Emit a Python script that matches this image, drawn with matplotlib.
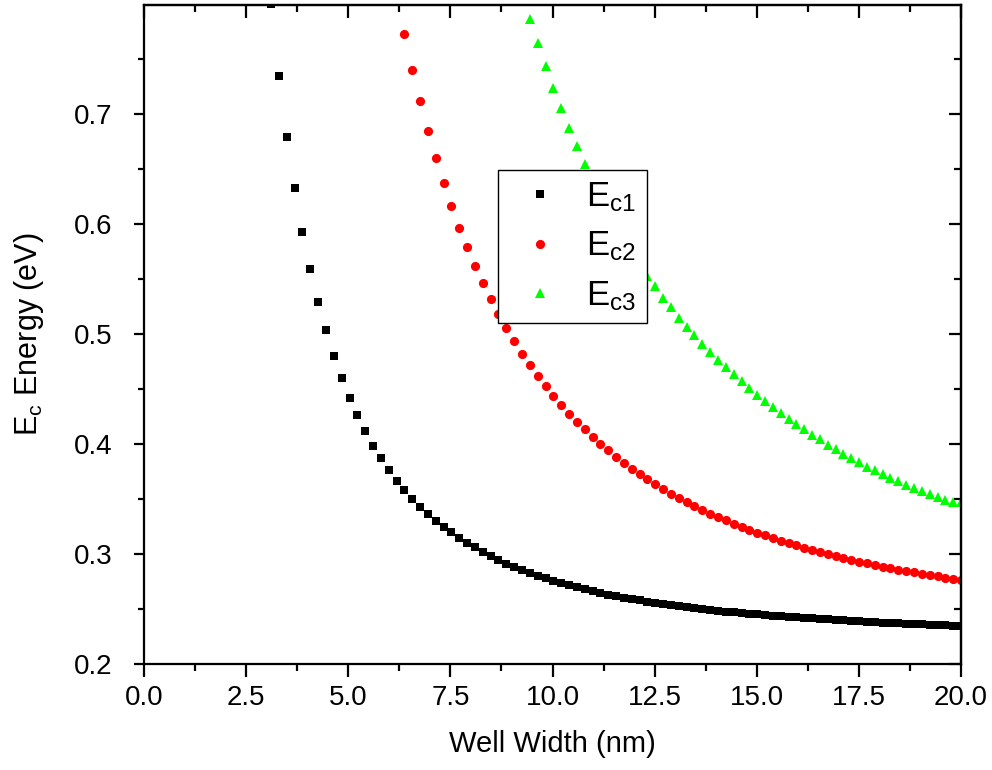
import numpy as np
import matplotlib
matplotlib.use("Agg")
import matplotlib.pyplot as plt
from matplotlib.ticker import MultipleLocator, FormatStrFormatter, FixedLocator

plt.rcParams['font.family'] = ['Liberation Sans', 'DejaVu Sans']
plt.rcParams['mathtext.fontset'] = 'custom'
plt.rcParams['mathtext.rm'] = 'Liberation Sans'
plt.rcParams['mathtext.it'] = 'Liberation Sans:italic'

# Well width grid (nm), sampled uniformly between 1 and 20 nm
width = np.linspace(1, 20, 100)

ec1 = [0.8000, 0.7347, 0.6797, 0.6331, 0.5930, 0.5589, 0.5290, 0.5040, 0.4798, 0.4598,
       0.4418, 0.4260, 0.4114, 0.3986, 0.3868, 0.3765, 0.3667, 0.3582, 0.3503, 0.3430,
       0.3360, 0.3299, 0.3243, 0.3195, 0.3144, 0.3098, 0.3058, 0.3016, 0.2980, 0.2943,
       0.2910, 0.2880, 0.2852, 0.2826, 0.2801, 0.2778, 0.2755, 0.2734, 0.2714, 0.2696,
       0.2678, 0.2661, 0.2645, 0.2630, 0.2615, 0.2602, 0.2590, 0.2578, 0.2566, 0.2555,
       0.2544, 0.2534, 0.2524, 0.2515, 0.2505, 0.2496, 0.2488, 0.2481, 0.2474, 0.2467,
       0.2461, 0.2455, 0.2449, 0.2443, 0.2437, 0.2432, 0.2427, 0.2422, 0.2417, 0.2412,
       0.2407, 0.2403, 0.2398, 0.2394, 0.2390, 0.2386, 0.2382, 0.2378, 0.2374, 0.2371,
       0.2367, 0.2364, 0.2361, 0.2358, 0.2355, 0.2352, 0.2349, 0.2346, 0.2343]

ec2 = [0.7727, 0.7408, 0.7119, 0.6851, 0.6605, 0.6377, 0.6167, 0.5969, 0.5790, 0.5622,
       0.5462, 0.5318, 0.5182, 0.5054, 0.4935, 0.4823, 0.4716, 0.4619, 0.4525, 0.4436,
       0.4354, 0.4276, 0.4203, 0.4132, 0.4065, 0.4002, 0.3941, 0.3883, 0.3828, 0.3773,
       0.3725, 0.3679, 0.3633, 0.3591, 0.3548, 0.3509, 0.3469, 0.3433, 0.3399, 0.3366,
       0.3335, 0.3305, 0.3275, 0.3247, 0.3220, 0.3193, 0.3168, 0.3144, 0.3120, 0.3098,
       0.3077, 0.3056, 0.3034, 0.3016, 0.2998, 0.2980, 0.2961, 0.2943, 0.2928, 0.2913,
       0.2898, 0.2882, 0.2867, 0.2855, 0.2843, 0.2831, 0.2818, 0.2806, 0.2794, 0.2782,
       0.2773, 0.2764]

ec3 = [0.7867, 0.7653, 0.7438, 0.7243, 0.7058, 0.6879, 0.6712, 0.6552, 0.6400, 0.6255,
       0.6118, 0.5988, 0.5866, 0.5750, 0.5638, 0.5531, 0.5434, 0.5330, 0.5243, 0.5151,
       0.5066, 0.4990, 0.4914, 0.4838, 0.4765, 0.4701, 0.4634, 0.4570, 0.4509, 0.4449,
       0.4391, 0.4336, 0.4281, 0.4230, 0.4181, 0.4132, 0.4084, 0.4041, 0.3995, 0.3953,
       0.3913, 0.3874, 0.3834, 0.3795, 0.3761, 0.3728, 0.3692, 0.3661, 0.3631, 0.3600,
       0.3573, 0.3546, 0.3518, 0.3494, 0.3469, 0.3470]

labels = [r'$\mathregular{E_{c1}}$', r'$\mathregular{E_{c2}}$', r'$\mathregular{E_{c3}}$']
colors = ['black', 'red', '#00ff00']
markers = ['s', 'o', '^']
msizes = [5.8, 6.6, 7.6]
series = [ec1, ec2, ec3]
yticks = [0.2, 0.3, 0.4, 0.5, 0.6, 0.7]

fig = plt.figure(figsize=(9.92, 7.7), dpi=100)
ax = fig.add_axes([0.1452, 0.138, 0.8236, 0.8555])

for ys, lab, c, m, s in zip(series, labels, colors, markers, msizes):
    xs = width[len(width) - len(ys):]
    ax.plot(xs, ys, linestyle='none', marker=m, color=c, markersize=s,
            markeredgewidth=0, label=lab)

ax.set_xlim(0, 20)
ax.set_ylim(0.2, 0.7995)
ax.xaxis.set_major_locator(MultipleLocator(2.5))
ax.xaxis.set_minor_locator(MultipleLocator(1.25))
ax.yaxis.set_major_locator(FixedLocator(yticks))
ax.yaxis.set_minor_locator(FixedLocator([0.25, 0.35, 0.45, 0.55, 0.65, 0.75]))
ax.xaxis.set_major_formatter(FormatStrFormatter('%.1f'))
ax.yaxis.set_major_formatter(FormatStrFormatter('%.1f'))

for sp in ax.spines.values():
    sp.set_linewidth(1.6)

ax.tick_params(axis='x', which='major', direction='out', length=9, width=1.6,
               labelsize=20, pad=6)
ax.tick_params(axis='x', which='minor', direction='out', length=5, width=1.6)
ax.tick_params(axis='y', which='major', direction='out', length=7.5, width=1.6,
               labelsize=20, pad=15)
ax.tick_params(axis='y', which='minor', direction='out', length=4, width=1.6)

# mirrored top / right axes with inward ticks
top = ax.secondary_xaxis('top')
top.xaxis.set_major_locator(MultipleLocator(2.5))
top.xaxis.set_minor_locator(MultipleLocator(1.25))
top.tick_params(axis='x', which='major', direction='in', length=9, width=1.6, labeltop=False)
top.tick_params(axis='x', which='minor', direction='in', length=5, width=1.6)
top.spines['top'].set_linewidth(1.6)
right = ax.secondary_yaxis('right')
right.yaxis.set_major_locator(FixedLocator(yticks))
right.yaxis.set_minor_locator(FixedLocator([0.25, 0.35, 0.45, 0.55, 0.65, 0.75]))
right.tick_params(axis='y', which='major', direction='in', length=9, width=1.6, labelright=False)
right.tick_params(axis='y', which='minor', direction='in', length=5, width=1.6)
right.spines['right'].set_linewidth(1.6)

ax.set_xlabel('Well Width (nm)', fontsize=21, labelpad=14)
ax.set_ylabel(r'$\mathregular{E_c}$ Energy (eV)', fontsize=22, labelpad=20)

leg = ax.legend(loc='upper left', bbox_to_anchor=(0.433, 0.7495), fontsize=25,
                frameon=True, fancybox=False, framealpha=1, edgecolor='black',
                borderpad=0.3, labelspacing=0.45, handlelength=1.85,
                handletextpad=0.4, borderaxespad=0, markerscale=1.0)
leg.get_frame().set_linewidth(1.0)

fig.savefig('out.png', dpi=100)
